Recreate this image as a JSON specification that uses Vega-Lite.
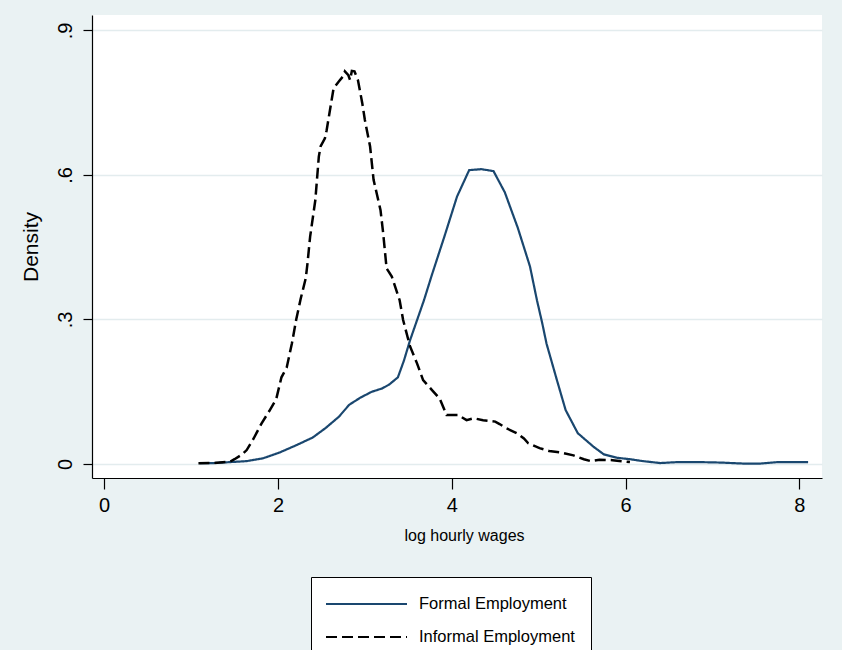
{
  "$schema": "https://vega.github.io/schema/vega-lite/v6.json",
  "width": 730,
  "height": 463,
  "autosize": {"type": "none"},
  "padding": {"left": 92, "top": 15, "right": 20, "bottom": 172},
  "background": "#EAF2F3",
  "config": {
    "view": {"fill": "white", "stroke": null},
    "font": "Liberation Sans"
  },
  "datasets": {
    "formal": [
      {"x": 1.10, "y": 0.002}, {"x": 1.26, "y": 0.002}, {"x": 1.45, "y": 0.004}, {"x": 1.64, "y": 0.006},
      {"x": 1.83, "y": 0.012}, {"x": 2.02, "y": 0.024}, {"x": 2.21, "y": 0.039}, {"x": 2.40, "y": 0.055},
      {"x": 2.55, "y": 0.075}, {"x": 2.70, "y": 0.098}, {"x": 2.82, "y": 0.123}, {"x": 2.95, "y": 0.138},
      {"x": 3.08, "y": 0.150}, {"x": 3.20, "y": 0.157}, {"x": 3.28, "y": 0.165}, {"x": 3.38, "y": 0.180},
      {"x": 3.45, "y": 0.215}, {"x": 3.52, "y": 0.257}, {"x": 3.68, "y": 0.340}, {"x": 3.77, "y": 0.392},
      {"x": 3.92, "y": 0.475}, {"x": 4.06, "y": 0.555}, {"x": 4.20, "y": 0.610}, {"x": 4.34, "y": 0.612},
      {"x": 4.48, "y": 0.608}, {"x": 4.61, "y": 0.564}, {"x": 4.76, "y": 0.490}, {"x": 4.90, "y": 0.410},
      {"x": 4.98, "y": 0.340}, {"x": 5.04, "y": 0.293}, {"x": 5.09, "y": 0.250}, {"x": 5.21, "y": 0.174},
      {"x": 5.31, "y": 0.112}, {"x": 5.45, "y": 0.064}, {"x": 5.63, "y": 0.036}, {"x": 5.75, "y": 0.020},
      {"x": 5.90, "y": 0.013}, {"x": 6.05, "y": 0.010}, {"x": 6.20, "y": 0.006}, {"x": 6.40, "y": 0.002},
      {"x": 6.60, "y": 0.004}, {"x": 6.85, "y": 0.004}, {"x": 7.10, "y": 0.003}, {"x": 7.35, "y": 0.001},
      {"x": 7.55, "y": 0.001}, {"x": 7.75, "y": 0.004}, {"x": 7.95, "y": 0.004}, {"x": 8.10, "y": 0.004}
    ],
    "informal": [
      {"x": 1.085, "y": 0.0015}, {"x": 1.25, "y": 0.002}, {"x": 1.45, "y": 0.005}, {"x": 1.50, "y": 0.010},
      {"x": 1.58, "y": 0.019}, {"x": 1.64, "y": 0.029}, {"x": 1.72, "y": 0.053}, {"x": 1.81, "y": 0.084},
      {"x": 1.90, "y": 0.110}, {"x": 1.98, "y": 0.135}, {"x": 2.04, "y": 0.180}, {"x": 2.10, "y": 0.200},
      {"x": 2.16, "y": 0.250}, {"x": 2.21, "y": 0.300}, {"x": 2.26, "y": 0.342}, {"x": 2.32, "y": 0.386},
      {"x": 2.34, "y": 0.417}, {"x": 2.37, "y": 0.472}, {"x": 2.43, "y": 0.548}, {"x": 2.47, "y": 0.638},
      {"x": 2.49, "y": 0.659}, {"x": 2.54, "y": 0.676}, {"x": 2.56, "y": 0.693}, {"x": 2.64, "y": 0.780},
      {"x": 2.70, "y": 0.794}, {"x": 2.75, "y": 0.805}, {"x": 2.77, "y": 0.815}, {"x": 2.81, "y": 0.807},
      {"x": 2.83, "y": 0.797}, {"x": 2.85, "y": 0.816}, {"x": 2.88, "y": 0.815}, {"x": 2.92, "y": 0.797},
      {"x": 2.97, "y": 0.749}, {"x": 3.00, "y": 0.714}, {"x": 3.06, "y": 0.659}, {"x": 3.10, "y": 0.590},
      {"x": 3.18, "y": 0.527}, {"x": 3.21, "y": 0.480}, {"x": 3.25, "y": 0.406}, {"x": 3.31, "y": 0.389},
      {"x": 3.40, "y": 0.340}, {"x": 3.44, "y": 0.299}, {"x": 3.52, "y": 0.244}, {"x": 3.60, "y": 0.209},
      {"x": 3.67, "y": 0.174}, {"x": 3.77, "y": 0.154}, {"x": 3.86, "y": 0.136}, {"x": 3.94, "y": 0.102},
      {"x": 4.07, "y": 0.102}, {"x": 4.17, "y": 0.091}, {"x": 4.25, "y": 0.095}, {"x": 4.36, "y": 0.091},
      {"x": 4.50, "y": 0.088}, {"x": 4.55, "y": 0.083}, {"x": 4.63, "y": 0.074}, {"x": 4.75, "y": 0.064},
      {"x": 4.83, "y": 0.053}, {"x": 4.88, "y": 0.043}, {"x": 5.01, "y": 0.033}, {"x": 5.12, "y": 0.027},
      {"x": 5.25, "y": 0.024}, {"x": 5.40, "y": 0.018}, {"x": 5.52, "y": 0.010}, {"x": 5.60, "y": 0.006},
      {"x": 5.70, "y": 0.009}, {"x": 5.85, "y": 0.008}, {"x": 6.05, "y": 0.004}
    ]
  },
  "data": {"name": "formal"},
  "transform": [
    {"calculate": "'Formal Employment'", "as": "series"}
  ],
  "layer": [
    {
      "mark": {"type": "line", "strokeWidth": 2.2},
      "encoding": {
        "x": {
          "field": "x", "type": "quantitative",
          "scale": {"domain": [-0.14, 8.26], "nice": false, "zero": false},
          "axis": {
            "values": [0, 2, 4, 6, 8], "format": "d", "grid": false,
            "title": "log hourly wages", "titleFont": "Liberation Sans", "titleFontSize": 16,
            "titleFontWeight": "normal", "titleColor": "#000", "titlePadding": 12, "titleX": 372,
            "labelFontSize": 20, "labelColor": "#000", "labelPadding": 6,
            "domainColor": "#000", "domainWidth": 1.2, "tickColor": "#000", "tickWidth": 1.2, "tickSize": 11
          }
        },
        "y": {
          "field": "y", "type": "quantitative",
          "scale": {"domain": [-0.029, 0.932], "nice": false, "zero": false},
          "axis": {
            "values": [0, 0.3, 0.6, 0.9], "grid": true, "gridColor": "#E3ECEE", "gridWidth": 1.6,
            "labelExpr": "datum.value == 0 ? '0' : '.' + round(datum.value * 10)",
            "labelAngle": -90, "labelAlign": "center", "labelBaseline": "bottom",
            "labelFontSize": 20, "labelColor": "#000", "labelPadding": 8,
            "title": "Density", "titleFont": "Liberation Sans", "titleFontSize": 21,
            "titleFontWeight": "normal", "titleColor": "#000", "titlePadding": 14,
            "domainColor": "#000", "domainWidth": 1.2, "tickColor": "#000", "tickWidth": 1.2, "tickSize": 9
          }
        },
        "color": {
          "field": "series", "type": "nominal",
          "scale": {"domain": ["Formal Employment", "Informal Employment"], "range": ["#1a476f", "#000000"]},
          "legend": {
            "title": null, "orient": "none", "legendX": 219, "legendY": 562, "direction": "vertical",
            "strokeColor": "#000", "fillColor": "#fff", "padding": 16,
            "symbolType": "M-1.2,0L6.9,0", "symbolSize": 400, "symbolStrokeWidth": 2,
            "labelFontSize": 16.5, "labelColor": "#000", "labelOffset": 70, "rowPadding": 13,
            "labelLimit": 300
          }
        },
        "strokeDash": {
          "field": "series", "type": "nominal",
          "scale": {"domain": ["Formal Employment", "Informal Employment"], "range": [[1, 0], [11, 5]]},
          "legend": null
        }
      }
    },
    {
      "data": {"name": "informal"},
      "transform": [{"calculate": "'Informal Employment'", "as": "series"}],
      "mark": {"type": "line", "strokeWidth": 2.5},
      "encoding": {
        "x": {"field": "x", "type": "quantitative"},
        "y": {"field": "y", "type": "quantitative"},
        "color": {"field": "series", "type": "nominal"},
        "strokeDash": {"field": "series", "type": "nominal"}
      }
    }
  ]
}
